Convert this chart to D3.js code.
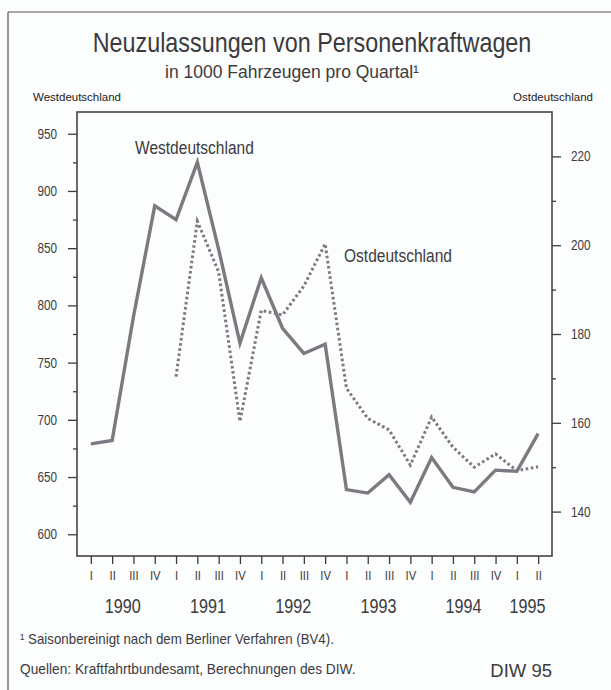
<!DOCTYPE html>
<html>
<head>
<meta charset="utf-8">
<script src="https://cdn.jsdelivr.net/npm/d3@7"></script>
<style>
  body { margin: 0; background: #fcfdfd; }
  svg { display: block; }
  text { font-family: "Liberation Sans", Arial, sans-serif; }
</style>
</head>
<body>
<div id="chart"></div>
<script>
// quarters I/1990 .. II/1995
var periods = ["1990 I", "1990 II", "1990 III", "1990 IV",
  "1991 I", "1991 II", "1991 III", "1991 IV",
  "1992 I", "1992 II", "1992 III", "1992 IV",
  "1993 I", "1993 II", "1993 III", "1993 IV",
  "1994 I", "1994 II", "1994 III", "1994 IV",
  "1995 I", "1995 II"];
var years = ["1990", "1991", "1992", "1993", "1994", "1995"];

// Neuzulassungen in 1000 Fahrzeugen (left axis: West, right axis: Ost)
var west = [679, 682, 790, 887, 875, 925, 849, 767, 824, 780, 758, 766,
  639, 636, 652, 628, 667, 641, 637, 656, 655, 688];
var ost = [null, null, null, null, 170.4, 205.4, 194, 160.3, 185.3, 184.3, 190.8, 200.3,
  167.8, 161, 158.4, 150.5, 161.3, 154.5, 150, 153, 149.2, 150.1];

var leftTicks = [600, 650, 700, 750, 800, 850, 900, 950];
var leftMinor = [625, 675, 725, 775, 825, 875, 925];
var rightTicks = [140, 160, 180, 200, 220];
var rightMinor = [150, 170, 190, 210];

var width = 611, height = 690;
var margin = { top: 112, right: 59, bottom: 134, left: 77 };
var ink = "#3b3b3e", lineCol = "#7a7a80";

var svg = d3.select("#chart").append("svg")
  .attr("width", width)
  .attr("height", height);

// the original uses a condensed face; squeeze the glyphs horizontally
function squeeze(sel, sx) {
  sel.each(function () {
    var t = d3.select(this);
    var tx = +t.attr("x") || 0, ty = +t.attr("y") || 0;
    t.attr("x", 0).attr("y", 0)
      .attr("transform", "translate(" + tx + "," + ty + ") scale(" + sx + ",1)");
  });
}

// outer frame (left and top edge of the scan)
svg.append("line").attr("x1", 8).attr("x2", 8).attr("y1", 12).attr("y2", height)
  .attr("stroke", "#555").attr("stroke-width", 1.2);
svg.append("line").attr("x1", 8).attr("x2", width).attr("y1", 12).attr("y2", 12)
  .attr("stroke", "#555").attr("stroke-width", 1.2);

var x = d3.scalePoint()
  .domain(periods)
  .range([margin.left, width - margin.right])
  .padding(0.65);

var yL = d3.scaleLinear().domain([581, 969]).range([height - margin.bottom, margin.top]);
var yR = d3.scaleLinear().domain([130, 230]).range([height - margin.bottom, margin.top]);

// titles
svg.append("text")
  .attr("x", 312).attr("y", 52).attr("text-anchor", "middle")
  .attr("font-size", 27).attr("fill", ink)
  .text("Neuzulassungen von Personenkraftwagen")
  .call(squeeze, 0.865);
svg.append("text")
  .attr("x", 292).attr("y", 78).attr("text-anchor", "middle")
  .attr("font-size", 17.5).attr("fill", ink)
  .text("in 1000 Fahrzeugen pro Quartal¹");
svg.append("text")
  .attr("x", 33).attr("y", 101).attr("font-size", 11.5).attr("fill", "#222")
  .text("Westdeutschland");
svg.append("text")
  .attr("x", 593).attr("y", 101).attr("text-anchor", "end")
  .attr("font-size", 11.5).attr("fill", "#222")
  .text("Ostdeutschland");

// left axis
var gL = svg.append("g").attr("transform", "translate(" + margin.left + ",0)");
gL.call(d3.axisLeft(yL).tickValues(leftTicks).tickSize(9).tickPadding(11));
gL.append("g").call(d3.axisLeft(yL).tickValues(leftMinor).tickSize(4).tickFormat(""));

// right axis
var gR = svg.append("g").attr("transform", "translate(" + (width - margin.right) + ",0)");
gR.call(d3.axisRight(yR).tickValues(rightTicks).tickSize(9).tickPadding(10));
gR.append("g").call(d3.axisRight(yR).tickValues(rightMinor).tickSize(4).tickFormat(""));

// bottom axis
var gB = svg.append("g").attr("transform", "translate(0," + (height - margin.bottom) + ")");
gB.call(d3.axisBottom(x).tickSize(8).tickPadding(6)
  .tickFormat(function (d) { return d.split(" ")[1]; }));

svg.selectAll(".domain").remove();
svg.selectAll(".tick line").attr("stroke", ink).attr("stroke-width", 1.3);
svg.selectAll(".tick text").attr("fill", ink).attr("font-size", 14).attr("font-family", null);
gB.selectAll(".tick text").attr("font-size", 13.5);
svg.selectAll(".tick text").call(squeeze, 0.84);

// plot frame
svg.append("rect")
  .attr("x", margin.left).attr("y", margin.top)
  .attr("width", width - margin.left - margin.right)
  .attr("height", height - margin.top - margin.bottom)
  .attr("fill", "none").attr("stroke", "#444").attr("stroke-width", 1.6);

// year labels, centred under their quarters
svg.selectAll(".year").data(years).enter().append("text")
  .attr("class", "year")
  .attr("x", function (yr) {
    return d3.mean(periods.filter(function (p) { return p.indexOf(yr) === 0; }), x);
  })
  .attr("y", 613).attr("text-anchor", "middle")
  .attr("font-size", 20.5).attr("fill", ink)
  .text(function (d) { return d; })
  .call(squeeze, 0.79);

// lines
var lineW = d3.line()
  .x(function (d, i) { return x(periods[i]); })
  .y(function (d) { return yL(d); });
var lineO = d3.line()
  .defined(function (d) { return d !== null; })
  .x(function (d, i) { return x(periods[i]); })
  .y(function (d) { return yR(d); });

svg.append("path").datum(west)
  .attr("d", lineW)
  .attr("fill", "none").attr("stroke", lineCol).attr("stroke-width", 3.4)
  .attr("stroke-linejoin", "miter");
svg.append("path").datum(ost)
  .attr("d", lineO)
  .attr("fill", "none").attr("stroke", lineCol).attr("stroke-width", 3)
  .attr("stroke-dasharray", "2.6,2.6");

// series labels
svg.append("text")
  .attr("x", 135).attr("y", 154).attr("font-size", 18.5).attr("fill", ink)
  .text("Westdeutschland")
  .call(squeeze, 0.84);
svg.append("text")
  .attr("x", 344).attr("y", 262).attr("font-size", 18.5).attr("fill", ink)
  .text("Ostdeutschland")
  .call(squeeze, 0.84);

// notes
svg.append("text")
  .attr("x", 20).attr("y", 644).attr("font-size", 14).attr("fill", ink)
  .text("¹ Saisonbereinigt nach dem Berliner Verfahren (BV4).")
  .call(squeeze, 0.95);
svg.append("text")
  .attr("x", 20).attr("y", 674).attr("font-size", 14).attr("fill", ink)
  .text("Quellen: Kraftfahrtbundesamt, Berechnungen des DIW.")
  .call(squeeze, 0.98);
svg.append("text")
  .attr("x", 552).attr("y", 677).attr("text-anchor", "end")
  .attr("font-size", 18.5).attr("fill", ink)
  .text("DIW 95");
</script>
</body>
</html>
